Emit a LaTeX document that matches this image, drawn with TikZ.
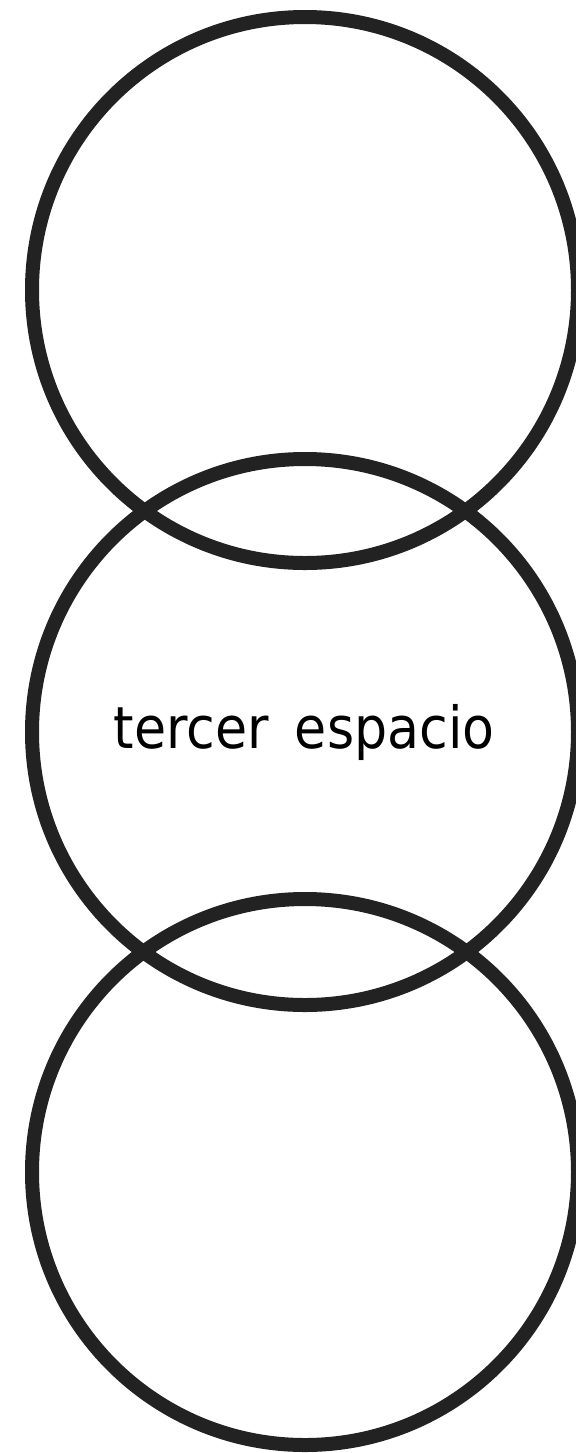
\documentclass[tikz,border=0pt]{standalone}
\usepackage{fontspec}
\setmainfont{DejaVu Sans Condensed}
\definecolor{ringgray}{RGB}{34,34,34}
\usetikzlibrary{positioning}

\begin{document}
\begin{tikzpicture}[x=0.5pt,y=-0.5pt]
  \tikzstyle{ring}=[circle,draw=ringgray,line width=7pt,minimum size=273pt,inner sep=0pt]
  \tikzstyle{label}=[font=\fontsize{29}{34}\selectfont,text=black,anchor=base]

  \useasboundingbox (0,0) rectangle (576,1453);

  \node[ring] (upper) at (305,290) {};
  \node[ring] (middle) at (305,732) {};
  \node[ring] (lower) at (305,1172) {};

  \node[label] (space) at (304,748) {tercer\hspace{0.45em}espacio};
\end{tikzpicture}
\end{document}
